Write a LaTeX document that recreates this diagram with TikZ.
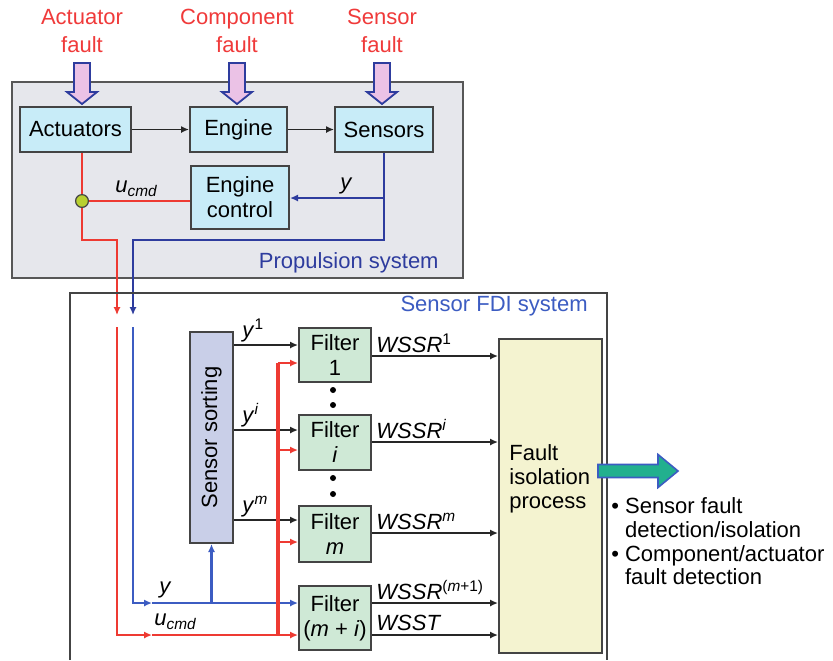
\documentclass[tikz,border=0pt]{standalone}
\usepackage{fontspec}
\setmainfont{Liberation Sans}
\usetikzlibrary{arrows.meta,calc}
\definecolor{fred}{HTML}{F03A3A}
\definecolor{lred}{HTML}{EE3A32}
\definecolor{dblue}{HTML}{2E3C9E}
\definecolor{mblue}{HTML}{3C5CC2}
\definecolor{lblue}{HTML}{C8ECF8}
\definecolor{fgreen}{HTML}{CFE9D6}
\definecolor{slav}{HTML}{C9CFE8}
\definecolor{fyel}{HTML}{F4F3D0}
\definecolor{pgray}{HTML}{E6E7EC}
\definecolor{bgray}{HTML}{444444}
\definecolor{pinkf}{HTML}{EBC2E6}
\definecolor{tealf}{HTML}{22B08E}
\definecolor{dotg}{HTML}{B8D030}
\tikzset{
  blk/.style={draw=bgray, line width=1pt, align=center, inner sep=0pt, font=\fontsize{11}{12.5}\selectfont},
  tipA/.style={-{Latex[length=4pt,width=3.6pt]}},
  blkline/.style={draw=black!85, line width=0.85pt},
  redline/.style={draw=lred, line width=1.2pt},
  blueline/.style={draw=dblue, line width=1.05pt},
  fblueline/.style={draw=mblue, line width=1.05pt},
  lbl/.style={inner sep=1pt, font=\fontsize{11}{12}\selectfont},
  faultlbl/.style={text=fred, align=center, font=\fontsize{11}{14}\selectfont},
  faultarrow/.pic={\draw[fill=pinkf, draw=dblue, line width=0.9pt, line join=miter]
     (-8,-41) -- (8,-41) -- (8,-12) -- (15,-12) -- (0,0) -- (-15,-12) -- (-8,-12) -- cycle;}
}
\begin{document}
\begin{tikzpicture}[x=0.5pt,y=-0.5pt, font=\fontsize{11}{12.5}\selectfont]
\useasboundingbox (0,0) rectangle (833,660);
\fill[white] (0,0) rectangle (833,660);

% Propulsion system
\node[draw=bgray!90, line width=1pt, fill=pgray, inner sep=0pt, minimum width=225.5pt, minimum height=98pt] (prop) at (237.5,180) {};
\node[text=dblue, anchor=east, lbl] (proplbl) at (441,263) {Propulsion system};

\node[blk, fill=lblue, minimum width=55.5pt, minimum height=22.5pt] (act) at (75.5,129.5) {Actuators};
\node[blk, fill=lblue, minimum width=48.5pt, minimum height=22.5pt] (eng) at (238.5,129.5) {Engine};
\node[blk, fill=lblue, minimum width=49pt, minimum height=22.5pt] (sen) at (384,129.5) {Sensors};
\node[blk, fill=lblue, minimum width=49pt, minimum height=31.5pt] (ctrl) at (240,197.5) {Engine\\control};

% fault labels and arrows
\node[faultlbl] (afault) at (82,31) {Actuator\\fault};
\node[faultlbl] (cfault) at (237,31) {Component\\fault};
\node[faultlbl] (sfault) at (382,31) {Sensor\\fault};
\pic at ($(afault.south |- act.north)+(0,-2)$) {faultarrow};
\pic at ($(cfault.south |- eng.north)+(0,-2)$) {faultarrow};
\pic at ($(sfault.south |- sen.north)+(0,-2)$) {faultarrow};

\draw[blkline, tipA] (act.east) -- (eng.west);
\draw[blkline, tipA] (eng.east) -- (sen.west);

% red command line
\coordinate (dot) at (82,201);
\coordinate (rc) at (117,240);
\coordinate (r1) at (117,315);
\coordinate (r2) at (117,327);
\draw[redline] (act.south -| dot) -- (dot);
\draw[redline] (ctrl.west |- dot) -- (dot);
\draw[redline, tipA] (dot) |- (rc) -- (r1);
\filldraw[fill=dotg, draw=bgray, line width=0.6pt] (dot) circle (3.2pt);
\node[lbl, anchor=south west] (ucmd1) at (113,199) {\textit{u}\textsubscript{\textit{cmd}}};

% blue measurement line
\coordinate (bc) at (133,240);
\coordinate (b1) at (133,315);
\coordinate (b2) at (133,327);
\coordinate (yb) at (384,198);
\draw[blueline, tipA] (sen.south) |- (bc) -- (b1);
\draw[blueline, tipA] (yb) -- (ctrl.east |- yb);
\node[lbl, anchor=south west] (y0) at (338,196) {\textit{y}};

% Sensor FDI system
\draw[draw=bgray, line width=1pt] (70,660) |- (607,293) -- (607,660);
\node[text=mblue, anchor=east, lbl] (fdilbl) at (590,306) {Sensor FDI system};

\node[blk, fill=slav, minimum width=21.5pt, minimum height=105.5pt] (sort) at (211.5,437.5) {};
\node[rotate=90, lbl] (sortlbl) at (sort) {Sensor sorting};

\node[blk, fill=fgreen, minimum width=36pt, minimum height=27pt] (f1) at (335,355) {Filter\\1};
\node[blk, fill=fgreen, minimum width=36pt, minimum height=27.5pt] (fi) at (335,442.5) {Filter\\\textit{i}};
\node[blk, fill=fgreen, minimum width=36pt, minimum height=28pt] (fm) at (335,534) {Filter\\\textit{m}};
\node[blk, fill=fgreen, minimum width=36pt, minimum height=32pt] (fmi) at (335,618) {Filter\\(\textit{m} + \textit{i})};

\node[blk, fill=fyel, minimum width=51.5pt, minimum height=157pt] (fip) at (550.5,496) {};
\node[align=left, anchor=west, inner sep=0pt, font=\fontsize{11}{12}\selectfont] (fiptext) at (509,479) {Fault\\isolation\\process};

% dots
\fill (333,390) circle (1.5pt);
\fill (333,405) circle (1.5pt);
\fill (333,478) circle (1.5pt);
\fill (333,494) circle (1.5pt);

% levels
\coordinate (ly1) at (0,345);
\coordinate (lyi) at (0,430);
\coordinate (lym) at (0,520);
\coordinate (lw1) at (0,356);
\coordinate (lwi) at (0,442);
\coordinate (lwm) at (0,533);
\coordinate (lwm1) at (0,603);
\coordinate (lwst) at (0,635);

% sorted outputs
\draw[blkline, tipA] (sort.east |- ly1) -- (f1.west |- ly1);
\draw[blkline, tipA] (sort.east |- lyi) -- (fi.west |- lyi);
\draw[blkline, tipA] (sort.east |- lym) -- (fm.west |- lym);
\node[lbl, anchor=south west] (ly1t) at (240,344) {\textit{y}\textsuperscript{1}};
\node[lbl, anchor=south west] (lyit) at (240,429) {\textit{y}\textsuperscript{\textit{i}}};
\node[lbl, anchor=south west] (lymt) at (240,519) {\textit{y}\textsuperscript{\textit{m}}};

% filter outputs
\draw[blkline, tipA] (f1.east |- lw1) -- (fip.west |- lw1);
\draw[blkline, tipA] (fi.east |- lwi) -- (fip.west |- lwi);
\draw[blkline, tipA] (fm.east |- lwm) -- (fip.west |- lwm);
\draw[blkline, tipA] (fmi.east |- lwm1) -- (fip.west |- lwm1);
\draw[blkline, tipA] (fmi.east |- lwst) -- (fip.west |- lwst);
\node[lbl, anchor=south west] (w1) at (374,355) {\textit{WSSR}\textsuperscript{1}};
\node[lbl, anchor=south west] (wi) at (374,441) {\textit{WSSR}\textsuperscript{\textit{i}}};
\node[lbl, anchor=south west] (wm) at (374,532) {\textit{WSSR}\textsuperscript{\textit{m}}};
\node[lbl, anchor=south west] (wm1) at (374,602) {\textit{WSSR}\textsuperscript{(\textit{m}+1)}};
\node[lbl, anchor=south west] (wst) at (374,633) {\textit{WSST}};

% blue line in FDI
\coordinate (bmid) at (152,603);
\draw[fblueline, tipA] (b2) |- (bmid);
\draw[fblueline, tipA] (bmid) -- (fmi.west |- bmid);
\draw[fblueline, tipA] (sort.south |- bmid) -- (sort.south);
\node[lbl, anchor=south west] (y2) at (157,600) {\textit{y}};

% red line in FDI
\coordinate (rmid) at (152,635);
\coordinate (busb) at (278,635);
\coordinate (bust) at (278,363);
\coordinate (bri) at (278,450);
\coordinate (brm) at (278,542);
\draw[redline, tipA] (r2) |- (rmid);
\draw[redline, tipA] (rmid) -- (fmi.west |- rmid);
\draw[redline, line width=1.7pt] (busb) -- (bust);
\draw[redline, tipA] (bust) -- (f1.west |- bust);
\draw[redline, tipA] (bri) -- (fi.west |- bri);
\draw[redline, tipA] (brm) -- (fm.west |- brm);
\node[lbl, anchor=south west] (ucmd2) at (152,632) {\textit{u}\textsubscript{\textit{cmd}}};

% output arrow
\coordinate (ga) at (598,471);
\draw[fill=tealf, draw=mblue, line width=0.8pt, line join=miter]
  ($(ga)+(0,-6.5)$) -- ++(60,0) -- ++(0,-10) -- ++(20,16.5) -- ++(-20,16.5) -- ++(0,-10) -- ++(-60,0) -- cycle;

\node[anchor=north west, inner sep=0pt, font=\fontsize{11}{11.8}\selectfont] (bul) at (611,497)
 {\begin{tabular}{@{}l@{\hspace{3pt}}l@{}}
  \textbullet & Sensor fault\\
   & detection/isolation\\
  \textbullet & Component/actuator\\
   & fault detection
 \end{tabular}};
\end{tikzpicture}
\end{document}
